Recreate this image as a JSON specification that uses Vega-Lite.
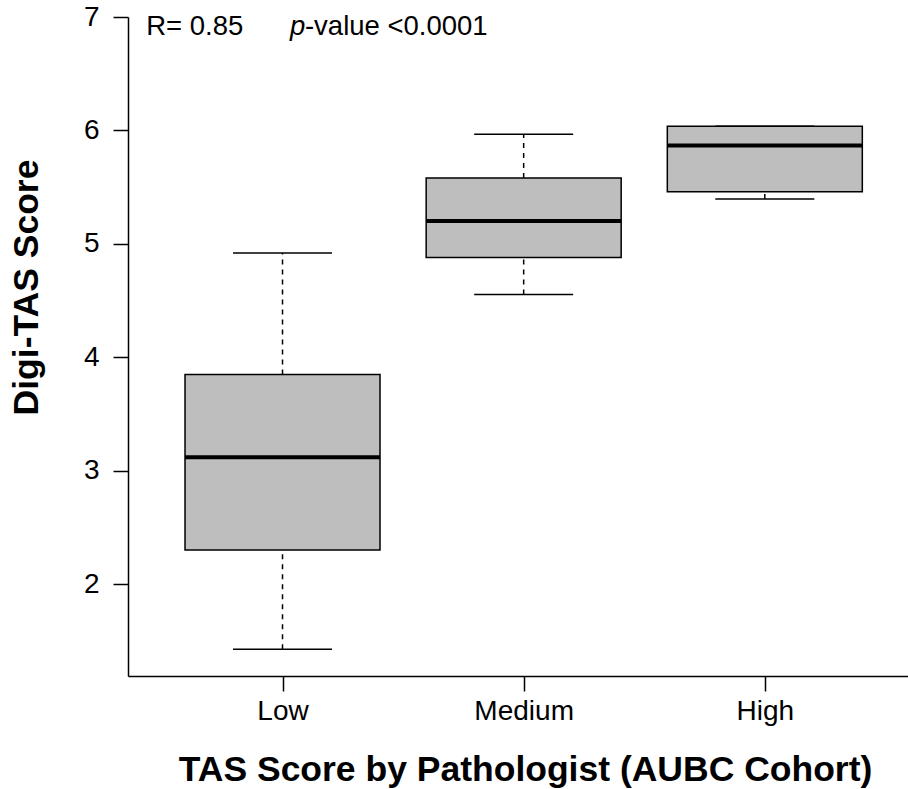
{
  "$schema": "https://vega.github.io/schema/vega-lite/v6.json",
  "autosize": "none",
  "padding": {"left": 128, "top": 17, "right": 0, "bottom": 113},
  "width": 780,
  "height": 659,
  "background": "white",
  "config": {
    "view": {"stroke": null},
    "font": "Liberation Sans",
    "axis": {
      "domainColor": "black", "domainWidth": 1.5,
      "tickColor": "black", "tickWidth": 1.5, "tickSize": 15,
      "labelColor": "black", "labelFontSize": 28, "labelFont": "Liberation Sans",
      "titleColor": "black", "titleFontSize": 35.5, "titleFont": "Liberation Sans", "titleFontWeight": "bold",
      "grid": false
    }
  },
  "datasets": {
    "boxes": [
      {"group": "Low", "pos": 1, "lower": 1.424, "q1": 2.30, "median": 3.117, "q3": 3.848, "upper": 4.92},
      {"group": "Medium", "pos": 2, "lower": 4.553, "q1": 4.879, "median": 5.202, "q3": 5.581, "upper": 5.966},
      {"group": "High", "pos": 3, "lower": 5.396, "q1": 5.458, "median": 5.866, "q3": 6.037, "upper": 6.037}
    ],
    "r": [{"x": 0.435, "y": 6.839, "label": "R= 0.85"}],
    "p": [{"x": 1.031, "y": 6.839, "label": "p"}],
    "pv": [{"x": 1.093, "y": 6.839, "label": "-value <0.0001"}]
  },
  "layer": [
    {
      "data": {"name": "boxes"},
      "mark": {"type": "rule", "color": "black", "strokeWidth": 1.5, "strokeDash": [5, 5]},
      "encoding": {
        "x": {"field": "pos", "type": "quantitative",
          "scale": {"domain": [0.38, 3.573], "nice": false, "zero": false},
          "axis": {"values": [1, 2, 3], "labelExpr": "datum.value == 1 ? 'Low' : datum.value == 2 ? 'Medium' : 'High'",
            "labelPadding": 6, "labelFlush": false, "labelOverlap": false,
            "title": "TAS Score by Pathologist (AUBC Cohort)",
            "titleBaseline": "alphabetic", "titleX": 397, "titleY": 104, "titleAnchor": "middle", "titleAlign": "center"}},
        "y": {"field": "lower", "type": "quantitative",
          "scale": {"domain": [1.189, 7], "nice": false, "zero": false},
          "axis": {"values": [2, 3, 4, 5, 6, 7], "format": "d", "labelPadding": 14, "labelFlush": false, "labelOverlap": false,
            "title": "Digi-TAS Score", "titleBaseline": "alphabetic", "titleAngle": -90,
            "titleX": -91, "titleY": 270, "titleAlign": "center"}},
        "y2": {"field": "q1"}
      }
    },
    {
      "data": {"name": "boxes"},
      "mark": {"type": "rule", "color": "black", "strokeWidth": 1.5, "strokeDash": [5, 5]},
      "encoding": {
        "x": {"field": "pos", "type": "quantitative"},
        "y": {"field": "q3", "type": "quantitative"},
        "y2": {"field": "upper"}
      }
    },
    {
      "data": {"name": "boxes"},
      "mark": {"type": "tick", "orient": "horizontal", "color": "black", "size": 99, "thickness": 1.5, "opacity": 1},
      "encoding": {
        "x": {"field": "pos", "type": "quantitative"},
        "y": {"field": "upper", "type": "quantitative"}
      }
    },
    {
      "data": {"name": "boxes"},
      "mark": {"type": "tick", "orient": "horizontal", "color": "black", "size": 99, "thickness": 1.5, "opacity": 1},
      "encoding": {
        "x": {"field": "pos", "type": "quantitative"},
        "y": {"field": "lower", "type": "quantitative"}
      }
    },
    {
      "data": {"name": "boxes"},
      "mark": {"type": "bar", "fill": "#bebebe", "stroke": "black", "strokeWidth": 1.5, "size": 195, "opacity": 1},
      "encoding": {
        "x": {"field": "pos", "type": "quantitative"},
        "y": {"field": "q1", "type": "quantitative"},
        "y2": {"field": "q3"}
      }
    },
    {
      "data": {"name": "boxes"},
      "mark": {"type": "tick", "orient": "horizontal", "color": "black", "size": 195, "thickness": 4, "opacity": 1},
      "encoding": {
        "x": {"field": "pos", "type": "quantitative"},
        "y": {"field": "median", "type": "quantitative"}
      }
    },
    {
      "data": {"name": "r"},
      "mark": {"type": "text", "align": "left", "baseline": "alphabetic", "fontSize": 27.5, "color": "black", "font": "Liberation Sans"},
      "encoding": {
        "x": {"field": "x", "type": "quantitative"},
        "y": {"field": "y", "type": "quantitative"},
        "text": {"field": "label"}
      }
    },
    {
      "data": {"name": "p"},
      "mark": {"type": "text", "align": "left", "baseline": "alphabetic", "fontSize": 27.5, "fontStyle": "italic", "color": "black", "font": "Liberation Sans"},
      "encoding": {
        "x": {"field": "x", "type": "quantitative"},
        "y": {"field": "y", "type": "quantitative"},
        "text": {"field": "label"}
      }
    },
    {
      "data": {"name": "pv"},
      "mark": {"type": "text", "align": "left", "baseline": "alphabetic", "fontSize": 27.5, "color": "black", "font": "Liberation Sans"},
      "encoding": {
        "x": {"field": "x", "type": "quantitative"},
        "y": {"field": "y", "type": "quantitative"},
        "text": {"field": "label"}
      }
    }
  ]
}
